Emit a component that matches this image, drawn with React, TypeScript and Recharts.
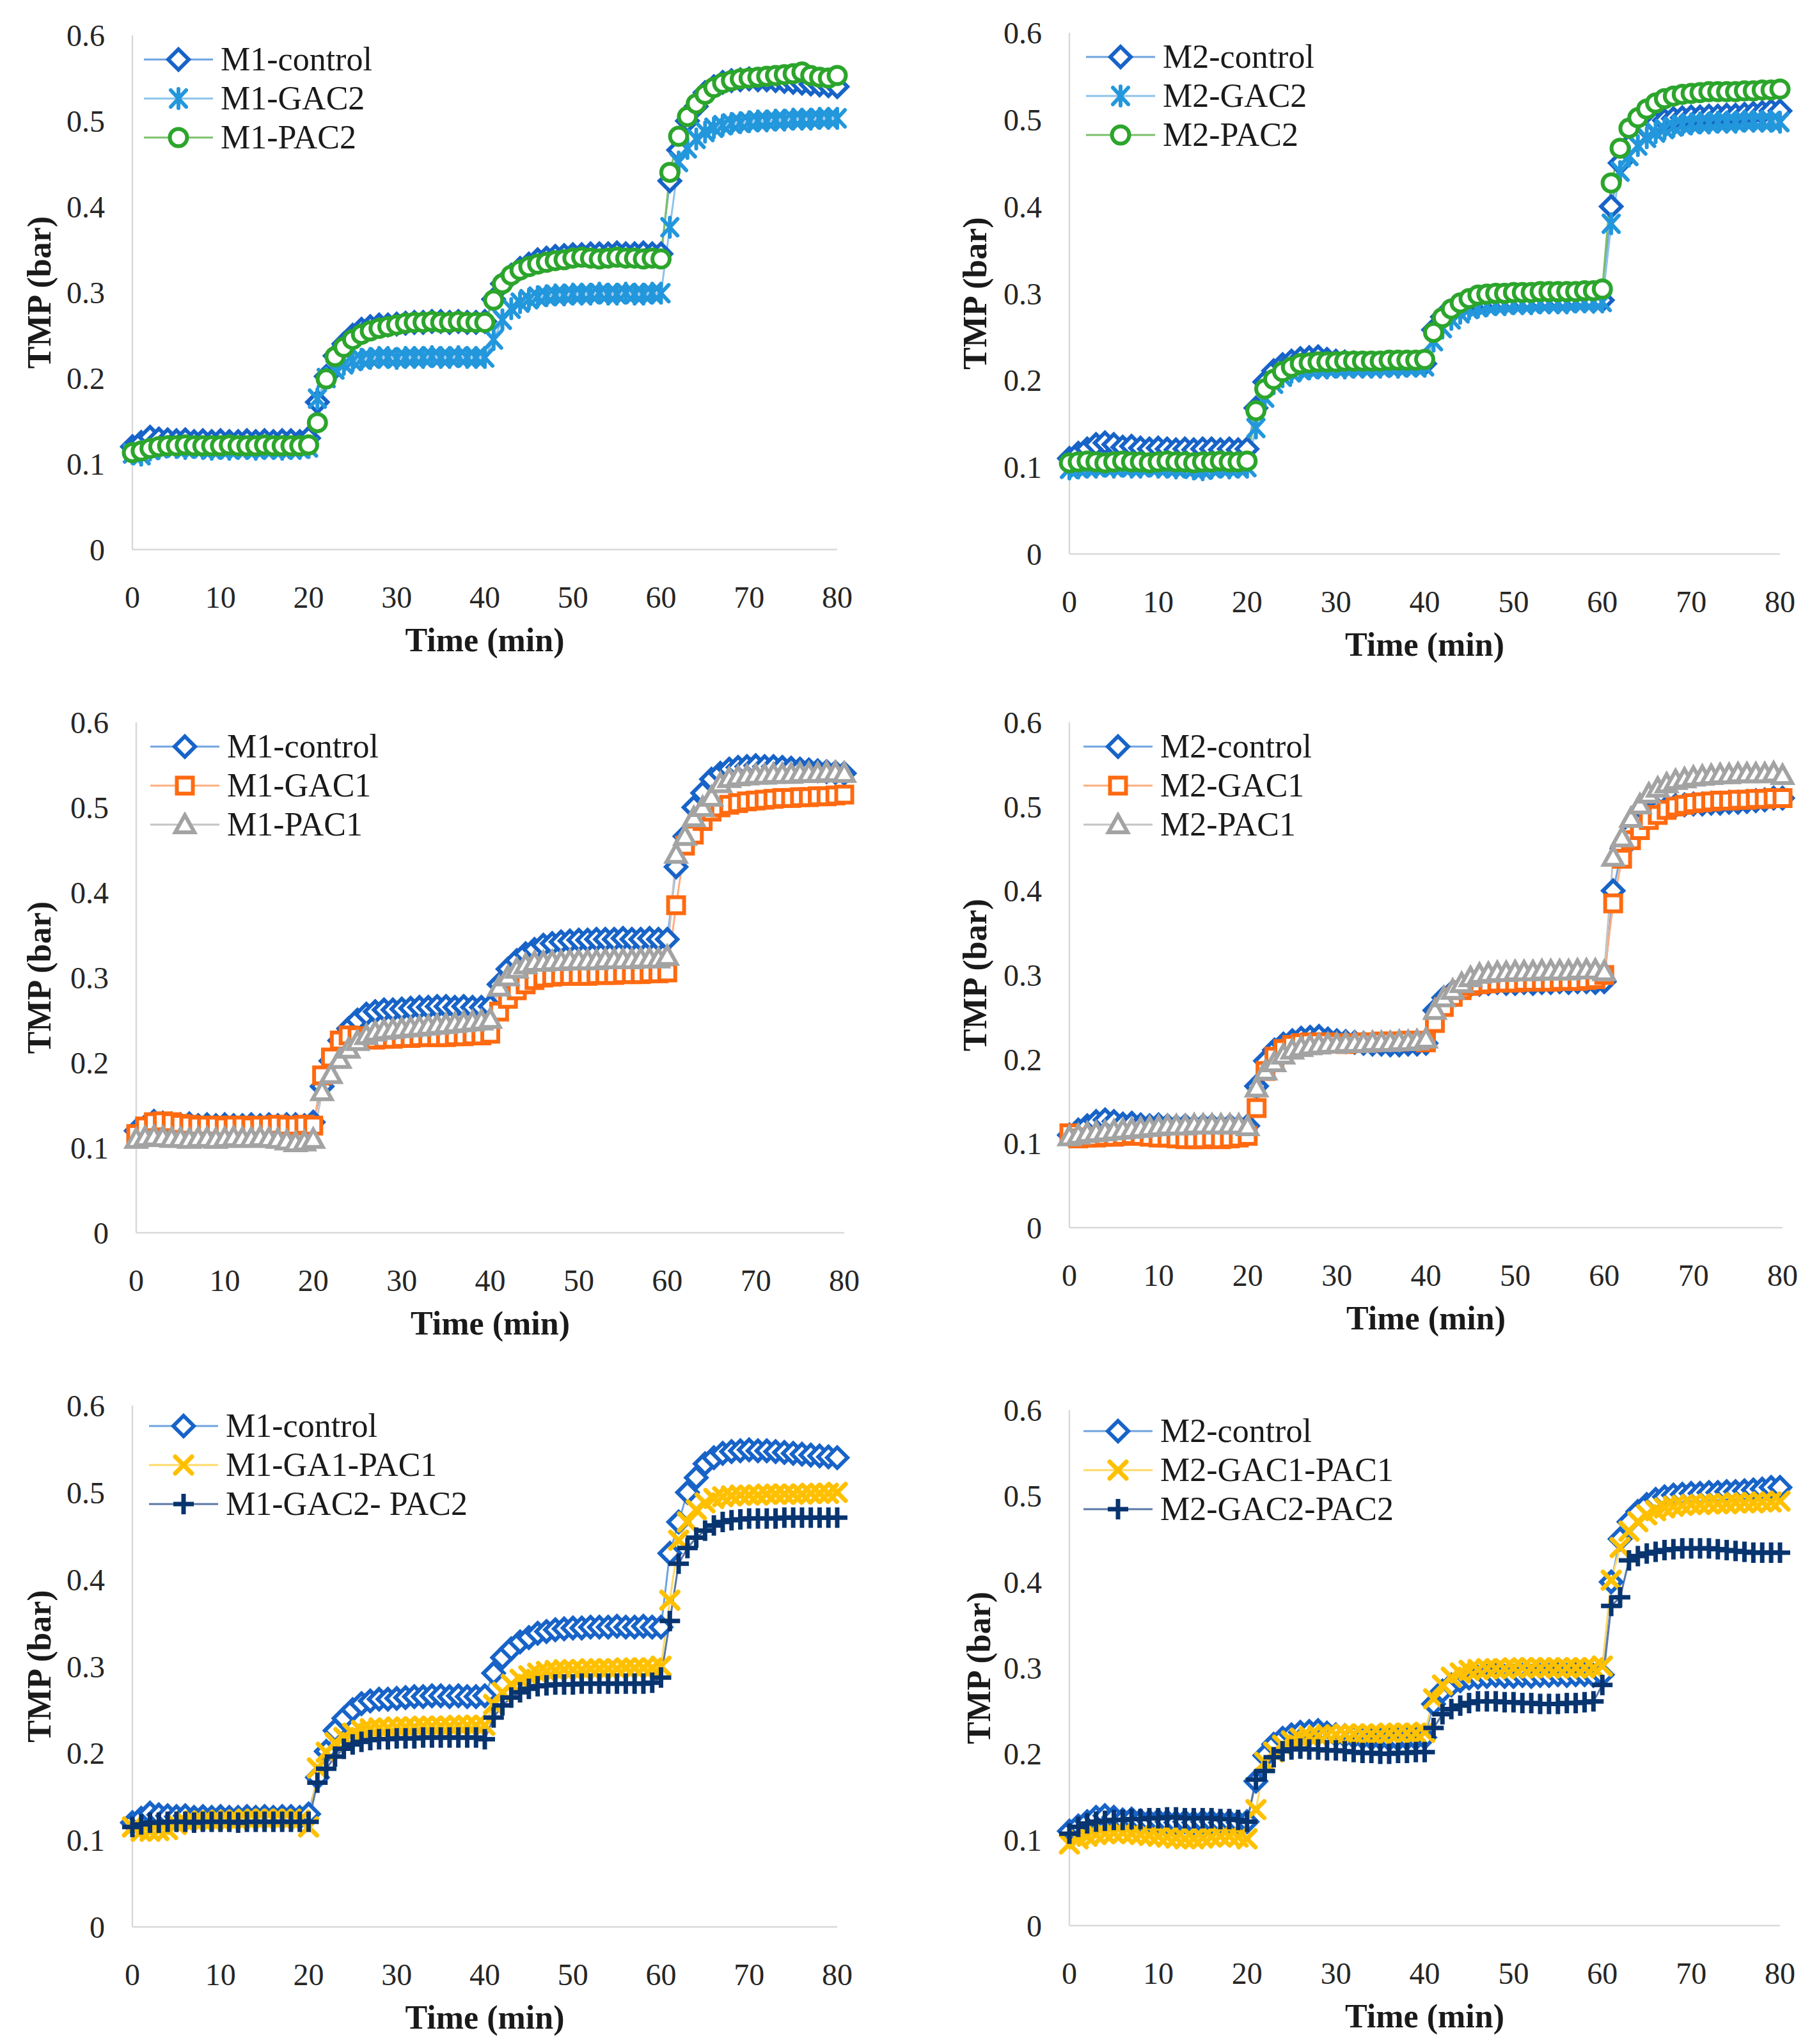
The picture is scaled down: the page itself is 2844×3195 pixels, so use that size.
import React from "react";
import { Legend, Line, LineChart, XAxis, YAxis } from "recharts";

const TIME = [
  0, 1, 2, 3, 4, 5, 6, 7, 8, 9, 10, 11, 12, 13, 14, 15, 16, 17, 18, 19, 20,
  21, 22, 23, 24, 25, 26, 27, 28, 29, 30, 31, 32, 33, 34, 35, 36, 37, 38, 39, 40,
  41, 42, 43, 44, 45, 46, 47, 48, 49, 50, 51, 52, 53, 54, 55, 56, 57, 58, 59, 60,
  61, 62, 63, 64, 65, 66, 67, 68, 69, 70, 71, 72, 73, 74, 75, 76, 77, 78, 79, 80,
];

const X_TICKS = [0, 10, 20, 30, 40, 50, 60, 70, 80];
const Y_TICKS = [0, 0.1, 0.2, 0.3, 0.4, 0.5, 0.6];

// membrane M1
const M1_CONTROL = [
  0.120, 0.125, 0.131, 0.129, 0.128, 0.127, 0.128, 0.126, 0.127, 0.126, 0.127, 0.126, 0.126, 0.127, 0.126, 0.127, 0.126, 0.127, 0.127, 0.126, 0.130,
  0.172, 0.202, 0.226, 0.240, 0.250, 0.257, 0.260, 0.262, 0.262, 0.263, 0.264, 0.265, 0.265, 0.266, 0.266, 0.265, 0.266, 0.265, 0.265, 0.266,
  0.292, 0.310, 0.320, 0.328, 0.333, 0.338, 0.340, 0.342, 0.343, 0.344, 0.344, 0.345, 0.345, 0.345, 0.346, 0.345, 0.345, 0.346, 0.345, 0.345,
  0.430, 0.466, 0.500, 0.517, 0.533, 0.540, 0.545, 0.547, 0.548, 0.549, 0.548, 0.548, 0.547, 0.546, 0.545, 0.544, 0.543, 0.542, 0.541, 0.540,
];
const M1_GAC2 = [
  0.112, 0.110, 0.116, 0.118, 0.120, 0.119, 0.118, 0.119, 0.118, 0.117, 0.118, 0.117, 0.118, 0.118, 0.117, 0.118, 0.118, 0.117, 0.118, 0.118, 0.119,
  0.176, 0.200, 0.210, 0.216, 0.220, 0.222, 0.223, 0.224, 0.224, 0.223, 0.224, 0.224, 0.224, 0.225, 0.224, 0.224, 0.225, 0.224, 0.224, 0.224,
  0.245, 0.268, 0.281, 0.288, 0.292, 0.295, 0.296, 0.297, 0.297, 0.298, 0.298, 0.298, 0.299, 0.298, 0.298, 0.299, 0.298, 0.298, 0.299, 0.299,
  0.376, 0.452, 0.468, 0.479, 0.487, 0.492, 0.495, 0.497, 0.498, 0.499, 0.500, 0.500, 0.501, 0.501, 0.502, 0.502, 0.502, 0.503, 0.503, 0.503,
];
const M1_PAC2 = [
  0.113, 0.115, 0.118, 0.120, 0.121, 0.121, 0.122, 0.121, 0.121, 0.121, 0.121, 0.122, 0.121, 0.121, 0.121, 0.122, 0.121, 0.121, 0.121, 0.121, 0.122,
  0.148, 0.199, 0.225, 0.236, 0.245, 0.251, 0.255, 0.258, 0.260, 0.262, 0.264, 0.265, 0.265, 0.266, 0.265, 0.265, 0.266, 0.265, 0.265, 0.265,
  0.291, 0.310, 0.320, 0.326, 0.330, 0.333, 0.335, 0.337, 0.338, 0.340, 0.341, 0.340, 0.339, 0.340, 0.341, 0.340, 0.340, 0.339, 0.340, 0.339,
  0.440, 0.482, 0.505, 0.520, 0.531, 0.539, 0.544, 0.547, 0.549, 0.550, 0.551, 0.552, 0.553, 0.554, 0.555, 0.557, 0.553, 0.551, 0.550, 0.553,
];
const M1_GAC1 = [
  0.116, 0.125, 0.130, 0.131, 0.130, 0.128, 0.127, 0.126, 0.126, 0.126, 0.125, 0.126, 0.126, 0.125, 0.126, 0.126, 0.127, 0.126, 0.126, 0.127, 0.126,
  0.185, 0.206, 0.226, 0.232, 0.231, 0.228, 0.227, 0.228, 0.228, 0.229, 0.229, 0.230, 0.230, 0.230, 0.230, 0.231, 0.231, 0.232, 0.232, 0.234,
  0.260, 0.275, 0.285, 0.292, 0.297, 0.300, 0.301, 0.302, 0.302, 0.302, 0.302, 0.303, 0.303, 0.303, 0.304, 0.304, 0.304, 0.305, 0.305, 0.306,
  0.385, 0.455, 0.468, 0.484, 0.495, 0.500, 0.503, 0.505, 0.507, 0.508, 0.509, 0.510, 0.511, 0.511, 0.512, 0.512, 0.513, 0.513, 0.514, 0.515,
];
const M1_PAC1 = [
  0.110, 0.112, 0.113, 0.112, 0.111, 0.111, 0.110, 0.111, 0.111, 0.110, 0.111, 0.112, 0.111, 0.111, 0.112, 0.111, 0.110, 0.108, 0.106, 0.107, 0.110,
  0.166, 0.186, 0.204, 0.216, 0.225, 0.232, 0.236, 0.238, 0.239, 0.240, 0.241, 0.242, 0.243, 0.244, 0.245, 0.246, 0.247, 0.248, 0.249, 0.251,
  0.289, 0.301, 0.310, 0.315, 0.318, 0.318, 0.319, 0.319, 0.320, 0.320, 0.320, 0.320, 0.321, 0.321, 0.321, 0.321, 0.322, 0.322, 0.322, 0.325,
  0.445, 0.466, 0.488, 0.500, 0.512, 0.528, 0.534, 0.536, 0.537, 0.538, 0.538, 0.539, 0.539, 0.539, 0.540, 0.540, 0.540, 0.541, 0.541, 0.540,
];
const M1_GA1_PAC1 = [
  0.115, 0.110, 0.110, 0.111, 0.112, 0.118, 0.121, 0.122, 0.122, 0.122, 0.123, 0.123, 0.123, 0.124, 0.124, 0.124, 0.124, 0.124, 0.124, 0.123, 0.115,
  0.183, 0.201, 0.212, 0.218, 0.223, 0.226, 0.228, 0.229, 0.229, 0.230, 0.230, 0.230, 0.231, 0.231, 0.231, 0.231, 0.232, 0.232, 0.232, 0.232,
  0.256, 0.270, 0.279, 0.285, 0.289, 0.292, 0.294, 0.295, 0.296, 0.296, 0.296, 0.297, 0.297, 0.297, 0.297, 0.298, 0.298, 0.298, 0.298, 0.300,
  0.376, 0.445, 0.466, 0.480, 0.488, 0.493, 0.495, 0.496, 0.497, 0.497, 0.497, 0.498, 0.498, 0.498, 0.498, 0.498, 0.499, 0.499, 0.499, 0.500,
];
const M1_GAC2_PAC2 = [
  0.115, 0.118, 0.120, 0.120, 0.121, 0.121, 0.121, 0.120, 0.121, 0.121, 0.121, 0.121, 0.120, 0.121, 0.121, 0.121, 0.121, 0.121, 0.121, 0.121, 0.121,
  0.166, 0.182, 0.196, 0.205, 0.210, 0.213, 0.215, 0.216, 0.216, 0.217, 0.217, 0.217, 0.218, 0.218, 0.218, 0.218, 0.218, 0.218, 0.218, 0.216,
  0.241, 0.255, 0.264, 0.270, 0.274, 0.277, 0.278, 0.279, 0.279, 0.279, 0.280, 0.280, 0.280, 0.280, 0.280, 0.280, 0.280, 0.280, 0.281, 0.287,
  0.352, 0.418, 0.436, 0.448, 0.456, 0.462, 0.466, 0.468, 0.469, 0.470, 0.470, 0.470, 0.470, 0.471, 0.471, 0.471, 0.471, 0.471, 0.471, 0.471,
];

// membrane M2
const M2_CONTROL = [
  0.110, 0.116, 0.121, 0.126, 0.128, 0.126, 0.123, 0.124, 0.122, 0.121, 0.122, 0.121, 0.120, 0.121, 0.120, 0.121, 0.121, 0.120, 0.121, 0.120, 0.121,
  0.168, 0.198, 0.211, 0.218, 0.222, 0.225, 0.226, 0.227, 0.224, 0.222, 0.221, 0.220, 0.219, 0.218, 0.218, 0.217, 0.217, 0.218, 0.218, 0.219,
  0.258, 0.273, 0.280, 0.285, 0.288, 0.289, 0.290, 0.291, 0.290, 0.290, 0.291, 0.290, 0.291, 0.291, 0.292, 0.291, 0.292, 0.292, 0.291, 0.292,
  0.400, 0.450, 0.470, 0.482, 0.490, 0.496, 0.499, 0.501, 0.502, 0.503, 0.503, 0.504, 0.504, 0.505, 0.505, 0.506, 0.507, 0.508, 0.510, 0.510,
];
const M2_GAC2 = [
  0.098, 0.099, 0.100, 0.100, 0.101, 0.100, 0.101, 0.100, 0.100, 0.101, 0.100, 0.100, 0.099, 0.100, 0.098, 0.097, 0.099, 0.100, 0.099, 0.100, 0.100,
  0.145, 0.180, 0.196, 0.204, 0.209, 0.212, 0.213, 0.214, 0.214, 0.215, 0.214, 0.215, 0.215, 0.215, 0.215, 0.216, 0.215, 0.216, 0.216, 0.216,
  0.245, 0.260, 0.270, 0.277, 0.282, 0.284, 0.286, 0.287, 0.287, 0.288, 0.288, 0.288, 0.289, 0.289, 0.289, 0.289, 0.290, 0.290, 0.290, 0.290,
  0.380, 0.440, 0.458, 0.470, 0.479, 0.485, 0.489, 0.492, 0.494, 0.495, 0.496, 0.496, 0.497, 0.497, 0.497, 0.498, 0.498, 0.498, 0.498, 0.497,
];
const M2_PAC2 = [
  0.105, 0.106, 0.107, 0.106, 0.105, 0.106, 0.107, 0.106, 0.106, 0.105, 0.106, 0.107, 0.106, 0.106, 0.105, 0.106, 0.106, 0.107, 0.106, 0.106, 0.107,
  0.165, 0.190, 0.201, 0.210, 0.215, 0.219, 0.220, 0.221, 0.221, 0.221, 0.222, 0.222, 0.222, 0.222, 0.222, 0.223, 0.223, 0.223, 0.223, 0.224,
  0.255, 0.272, 0.282, 0.289, 0.294, 0.298, 0.299, 0.300, 0.300, 0.301, 0.301, 0.301, 0.302, 0.302, 0.302, 0.302, 0.302, 0.303, 0.303, 0.305,
  0.427, 0.467, 0.490, 0.502, 0.512, 0.519, 0.524, 0.527, 0.529, 0.530, 0.531, 0.532, 0.532, 0.532, 0.532, 0.533, 0.533, 0.534, 0.534, 0.535,
];
const M2_GAC1 = [
  0.112, 0.106, 0.107, 0.107, 0.108, 0.108, 0.109, 0.110, 0.109, 0.108, 0.107, 0.107, 0.106, 0.105, 0.105, 0.105, 0.106, 0.105, 0.106, 0.107, 0.109,
  0.142, 0.186, 0.203, 0.212, 0.217, 0.219, 0.220, 0.220, 0.220, 0.219, 0.218, 0.219, 0.220, 0.220, 0.221, 0.221, 0.221, 0.222, 0.222, 0.220,
  0.243, 0.262, 0.274, 0.282, 0.287, 0.289, 0.290, 0.291, 0.291, 0.291, 0.292, 0.292, 0.292, 0.292, 0.293, 0.293, 0.293, 0.294, 0.295, 0.300,
  0.385, 0.438, 0.460, 0.472, 0.484, 0.490, 0.496, 0.500, 0.502, 0.504, 0.505, 0.506, 0.507, 0.507, 0.508, 0.508, 0.509, 0.509, 0.510, 0.510,
];
const M2_PAC1 = [
  0.108, 0.110, 0.112, 0.113, 0.114, 0.115, 0.116, 0.117, 0.118, 0.119, 0.120, 0.121, 0.121, 0.121, 0.122, 0.122, 0.122, 0.122, 0.122, 0.122, 0.120,
  0.166, 0.186, 0.196, 0.205, 0.211, 0.214, 0.216, 0.217, 0.218, 0.218, 0.219, 0.219, 0.219, 0.220, 0.220, 0.220, 0.221, 0.221, 0.222, 0.224,
  0.258, 0.273, 0.282, 0.290, 0.297, 0.301, 0.302, 0.303, 0.303, 0.304, 0.304, 0.304, 0.305, 0.305, 0.305, 0.305, 0.306, 0.306, 0.306, 0.304,
  0.440, 0.463, 0.486, 0.502, 0.515, 0.522, 0.527, 0.531, 0.533, 0.535, 0.536, 0.537, 0.538, 0.538, 0.539, 0.539, 0.539, 0.539, 0.540, 0.537,
];
const M2_GAC1_PAC1 = [
  0.095, 0.101, 0.104, 0.106, 0.107, 0.108, 0.108, 0.107, 0.106, 0.105, 0.104, 0.103, 0.102, 0.101, 0.101, 0.102, 0.103, 0.104, 0.104, 0.103, 0.101,
  0.135, 0.190, 0.202, 0.210, 0.215, 0.218, 0.220, 0.221, 0.222, 0.222, 0.223, 0.223, 0.223, 0.223, 0.223, 0.224, 0.224, 0.224, 0.224, 0.225,
  0.264, 0.280, 0.289, 0.294, 0.297, 0.298, 0.299, 0.299, 0.299, 0.300, 0.300, 0.300, 0.300, 0.300, 0.300, 0.300, 0.300, 0.300, 0.300, 0.302,
  0.402, 0.440, 0.459, 0.470, 0.478, 0.483, 0.486, 0.488, 0.489, 0.490, 0.490, 0.491, 0.491, 0.491, 0.492, 0.492, 0.492, 0.493, 0.493, 0.494,
];
const M2_GAC2_PAC2 = [
  0.107, 0.115, 0.119, 0.121, 0.122, 0.123, 0.123, 0.124, 0.124, 0.125, 0.125, 0.126, 0.126, 0.125, 0.125, 0.125, 0.125, 0.124, 0.124, 0.123, 0.121,
  0.170, 0.180, 0.196, 0.203, 0.205, 0.206, 0.205, 0.205, 0.204, 0.204, 0.203, 0.202, 0.201, 0.201, 0.200, 0.200, 0.201, 0.201, 0.202, 0.202,
  0.230, 0.246, 0.252, 0.256, 0.259, 0.261, 0.261, 0.261, 0.260, 0.260, 0.259, 0.259, 0.258, 0.258, 0.258, 0.259, 0.259, 0.260, 0.261, 0.280,
  0.372, 0.382, 0.425, 0.430, 0.433, 0.435, 0.437, 0.438, 0.439, 0.439, 0.439, 0.439, 0.438, 0.437, 0.436, 0.435, 0.434, 0.434, 0.434, 0.434,
];

type Shape = "diamond" | "asterisk" | "circle" | "square" | "triangle" | "cross" | "plus";

const STYLES: Record<string, { line: string; mark: string; shape: Shape }> = {
  control: { line: "#6fa3e0", mark: "#1763c8", shape: "diamond" },
  gac2: { line: "#8cc3ec", mark: "#2397dc", shape: "asterisk" },
  pac2: { line: "#7cc06a", mark: "#2ca52c", shape: "circle" },
  gac1: { line: "#ffad80", mark: "#ff6a10", shape: "square" },
  pac1: { line: "#c4c4c4", mark: "#a3a3a3", shape: "triangle" },
  mix1: { line: "#ffd966", mark: "#ffc000", shape: "cross" },
  mix2: { line: "#5b77a6", mark: "#08346f", shape: "plus" },
};

const FONT = "'Liberation Serif', 'Times New Roman', serif";

function Marker({ shape, cx, cy, color }: { shape: Shape; cx: number; cy: number; color: string }) {
  const sw = 6;
  switch (shape) {
    case "diamond":
      return (
        <path
          d={`M${cx} ${cy - 16}L${cx + 16} ${cy}L${cx} ${cy + 16}L${cx - 16} ${cy}Z`}
          fill="#fff"
          stroke={color}
          strokeWidth={sw}
        />
      );
    case "circle":
      return <circle cx={cx} cy={cy} r={13.5} fill="#fff" stroke={color} strokeWidth={sw} />;
    case "square":
      return <rect x={cx - 12.5} y={cy - 12.5} width={25} height={25} fill="#fff" stroke={color} strokeWidth={sw} />;
    case "triangle":
      return (
        <path
          d={`M${cx} ${cy - 15}L${cx + 15} ${cy + 12}L${cx - 15} ${cy + 12}Z`}
          fill="#fff"
          stroke={color}
          strokeWidth={sw}
        />
      );
    case "asterisk":
      return (
        <g stroke={color} strokeWidth={sw} strokeLinecap="round">
          <line x1={cx - 12} y1={cy - 13} x2={cx + 12} y2={cy + 13} />
          <line x1={cx + 12} y1={cy - 13} x2={cx - 12} y2={cy + 13} />
          <line x1={cx} y1={cy - 15} x2={cx} y2={cy + 15} />
        </g>
      );
    case "cross":
      return (
        <g stroke={color} strokeWidth={7} strokeLinecap="round">
          <line x1={cx - 13} y1={cy - 13} x2={cx + 13} y2={cy + 13} />
          <line x1={cx + 13} y1={cy - 13} x2={cx - 13} y2={cy + 13} />
        </g>
      );
    case "plus":
      return (
        <g stroke={color} strokeWidth={7}>
          <line x1={cx - 16} y1={cy} x2={cx + 16} y2={cy} />
          <line x1={cx} y1={cy - 16} x2={cx} y2={cy + 16} />
        </g>
      );
  }
}

interface PanelSeries {
  name: string;
  values: number[];
  style: string;
}

interface PanelBox {
  x0: number;
  y0: number;
  L: number;
  R: number;
  T: number;
  B: number;
  legendLeft: number;
  legendTop: number;
  ylabX: number;
}

const W = 1422;
const H = 1065;

const PANELS: { series: PanelSeries[]; box: PanelBox }[] = [
  {
    series: [
      { name: "M1-control", values: M1_CONTROL, style: "control" },
      { name: "M1-GAC2", values: M1_GAC2, style: "gac2" },
      { name: "M1-PAC2", values: M1_PAC2, style: "pac2" },
    ],
    box: { x0: 0, y0: 0, L: 207, R: 1309, T: 55, B: 859, legendLeft: 225, legendTop: 62, ylabX: 61 },
  },
  {
    series: [
      { name: "M2-control", values: M2_CONTROL, style: "control" },
      { name: "M2-GAC2", values: M2_GAC2, style: "gac2" },
      { name: "M2-PAC2", values: M2_PAC2, style: "pac2" },
    ],
    box: { x0: 1422, y0: 0, L: 250, R: 1361, T: 51, B: 866, legendLeft: 276, legendTop: 58, ylabX: 102 },
  },
  {
    series: [
      { name: "M1-control", values: M1_CONTROL, style: "control" },
      { name: "M1-GAC1", values: M1_GAC1, style: "gac1" },
      { name: "M1-PAC1", values: M1_PAC1, style: "pac1" },
    ],
    box: { x0: 0, y0: 1065, L: 213, R: 1320, T: 64, B: 862, legendLeft: 235, legendTop: 71, ylabX: 61 },
  },
  {
    series: [
      { name: "M2-control", values: M2_CONTROL, style: "control" },
      { name: "M2-GAC1", values: M2_GAC1, style: "gac1" },
      { name: "M2-PAC1", values: M2_PAC1, style: "pac1" },
    ],
    box: { x0: 1422, y0: 1065, L: 250, R: 1365, T: 64, B: 854, legendLeft: 272, legendTop: 71, ylabX: 102 },
  },
  {
    series: [
      { name: "M1-control", values: M1_CONTROL, style: "control" },
      { name: "M1-GA1-PAC1", values: M1_GA1_PAC1, style: "mix1" },
      { name: "M1-GAC2- PAC2", values: M1_GAC2_PAC2, style: "mix2" },
    ],
    box: { x0: 0, y0: 2130, L: 207, R: 1309, T: 67, B: 882, legendLeft: 233, legendTop: 68, ylabX: 61 },
  },
  {
    series: [
      { name: "M2-control", values: M2_CONTROL, style: "control" },
      { name: "M2-GAC1-PAC1", values: M2_GAC1_PAC1, style: "mix1" },
      { name: "M2-GAC2-PAC2", values: M2_GAC2_PAC2, style: "mix2" },
    ],
    box: { x0: 1422, y0: 2130, L: 250, R: 1361, T: 74, B: 880, legendLeft: 272, legendTop: 76, ylabX: 108 },
  },
];

function LegendBox({ series }: { series: PanelSeries[] }) {
  return (
    <div style={{ fontFamily: FONT, fontSize: 52, color: "#1a1a1a" }}>
      {series.map((s) => {
        const st = STYLES[s.style];
        return (
          <div key={s.name} style={{ display: "flex", alignItems: "center", height: 61, whiteSpace: "nowrap" }}>
            <svg width={108} height={40} style={{ marginRight: 12 }}>
              <line x1={0} y1={20} x2={108} y2={20} stroke={st.line} strokeWidth={3} />
              <Marker shape={st.shape} cx={54} cy={20} color={st.mark} />
            </svg>
            <span>{s.name}</span>
          </div>
        );
      })}
    </div>
  );
}

function YTitle({ viewBox, x }: any) {
  const cy = viewBox.y + viewBox.height / 2;
  return (
    <text
      x={x}
      y={cy}
      transform={`rotate(-90 ${x} ${cy})`}
      textAnchor="middle"
      dominantBaseline="central"
      fontFamily={FONT}
      fontWeight="bold"
      fontSize={52}
      fill="#1a1a1a"
    >
      TMP (bar)
    </text>
  );
}

function XTitle({ viewBox }: any) {
  return (
    <text
      x={viewBox.x + viewBox.width / 2}
      y={viewBox.y + 141}
      textAnchor="middle"
      dominantBaseline="central"
      fontFamily={FONT}
      fontWeight="bold"
      fontSize={52}
      fill="#1a1a1a"
    >
      Time (min)
    </text>
  );
}

function Panel({ series, box }: { series: PanelSeries[]; box: PanelBox }) {
  const data = TIME.map((t, i) => {
    const row: Record<string, number> = { t };
    series.forEach((s, k) => {
      row[`s${k}`] = s.values[i];
    });
    return row;
  });
  const tickStyle = { fontFamily: FONT, fontSize: 48, fill: "#262626" };

  return (
    <div style={{ position: "absolute", left: box.x0, top: box.y0 }}>
      <LineChart
        width={W}
        height={H}
        data={data}
        margin={{ top: box.T, right: W - box.R, left: 0, bottom: 0 }}
      >
        <XAxis
          dataKey="t"
          type="number"
          domain={[0, 80]}
          ticks={X_TICKS}
          height={H - box.B}
          tickLine={false}
          tickSize={0}
          tickMargin={57}
          axisLine={{ stroke: "#d9d9d9", strokeWidth: 2.5 }}
          tick={tickStyle}
          label={{ content: (p: any) => <XTitle {...p} /> }}
        />
        <YAxis
          type="number"
          domain={[0, 0.6]}
          ticks={Y_TICKS}
          width={box.L}
          tickLine={false}
          tickSize={0}
          tickMargin={43}
          axisLine={{ stroke: "#d9d9d9", strokeWidth: 2.5 }}
          tick={tickStyle}
          label={{ content: (p: any) => <YTitle {...p} x={box.ylabX} /> }}
        />
        <Legend
          layout="vertical"
          align="center"
          verticalAlign="middle"
          wrapperStyle={{ left: box.legendLeft, top: box.legendTop, width: "auto", height: "auto" }}
          content={() => <LegendBox series={series} />}
        />
        {series.map((s, k) => {
          const st = STYLES[s.style];
          return (
            <Line
              key={s.name}
              dataKey={`s${k}`}
              name={s.name}
              type="linear"
              stroke={st.line}
              strokeWidth={3}
              isAnimationActive={false}
              dot={(p: any) =>
                p.cx == null || p.cy == null ? (
                  <g key={`${s.name}-${p.index}`} />
                ) : (
                  <g key={`${s.name}-${p.index}`}>
                    <Marker shape={st.shape} cx={p.cx} cy={p.cy} color={st.mark} />
                  </g>
                )
              }
              activeDot={false}
            />
          );
        })}
      </LineChart>
    </div>
  );
}

export default function App() {
  return (
    <div style={{ position: "absolute", left: 0, top: 0, width: 2844, height: 3195, background: "#fff" }}>
      {PANELS.map((p, i) => (
        <Panel key={i} series={p.series} box={p.box} />
      ))}
    </div>
  );
}
